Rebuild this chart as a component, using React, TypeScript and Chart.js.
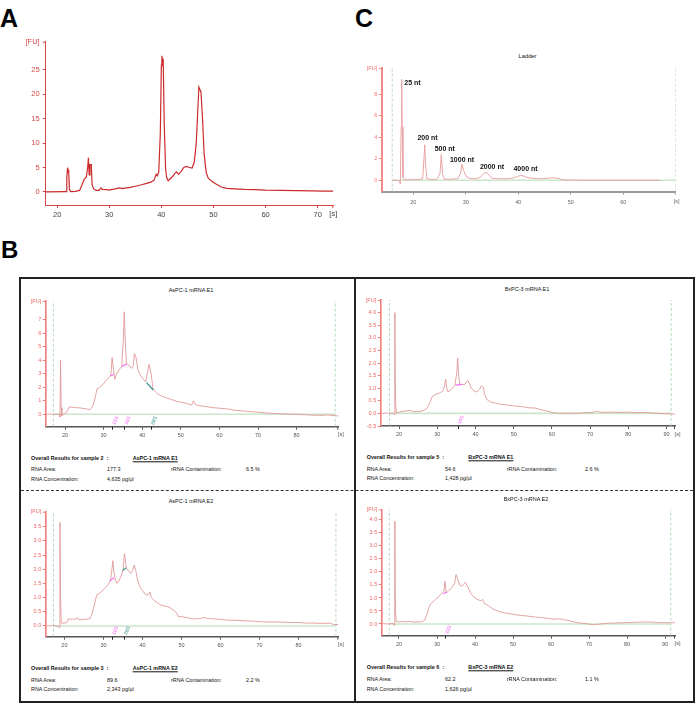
import React, { useEffect, useRef } from 'react';
import { Chart, registerables } from 'chart.js';
Chart.register(...registerables);

const FONT = "'Liberation Sans', Arial, sans-serif";

/* ---------------- Panel A ---------------- */
const aTrace: [number, number][] = [
  [17.8, 0], [21.7, 0.05], [21.85, 3], [22.0, 5.0], [22.1, 4.0], [22.2, 4.6], [22.35, 0.5], [22.6, 0.05],
  [23.5, 0.1], [24.3, 0.3], [24.8, 1.5], [25.2, 2.6], [25.6, 3.0], [25.85, 5.0], [26.0, 7.0], [26.15, 3.5],
  [26.3, 5.6], [26.55, 5.6], [26.7, 1.5], [27.0, 0.6], [27.5, 0.3], [28.0, 0.3], [28.4, 0.8], [28.7, 0.5],
  [29.5, 0.45], [30.0, 0.35], [30.5, 0.5], [31.0, 0.55], [31.5, 0.7], [32.0, 0.8], [32.5, 0.65], [33.0, 0.75],
  [34.0, 0.9], [35.0, 1.15], [36.0, 1.4], [37.0, 1.7], [38.0, 2.0], [38.6, 2.4], [39.0, 3.6], [39.2, 3.3],
  [39.5, 4.0], [39.8, 12], [40.0, 26], [40.1, 27.9], [40.25, 26.5], [40.35, 27.3], [40.55, 14], [40.8, 5],
  [41.0, 3.0], [41.3, 2.3], [41.8, 2.8], [42.2, 3.2], [42.6, 3.8], [42.9, 4.1], [43.3, 3.6], [43.8, 4.2],
  [44.3, 5.0], [44.8, 5.2], [45.4, 5.0], [45.9, 4.9], [46.3, 6.0], [46.7, 10], [47.0, 17], [47.2, 21.5],
  [47.4, 21.0], [47.6, 20.5], [47.9, 15], [48.2, 8], [48.6, 4], [49.0, 2.8], [49.6, 2.2], [50.5, 1.6],
  [51.5, 1.0], [52.5, 0.7], [54, 0.6], [56, 0.5], [58, 0.45], [60, 0.35], [63, 0.3], [66, 0.25],
  [69, 0.2], [71, 0.15], [73, 0.15],
];
const aXTicks = [20, 30, 40, 50, 60, 70];
const aYTicks = [0, 5, 10, 15, 20, 25];

/* ---------------- Panel C (ladder) ---------------- */
const ladderTrace: [number, number][] = [
  [16, 0], [17.3, 0], [17.55, -0.35], [17.7, 5.0], [17.8, 9.4], [17.9, 5.0], [18.05, 0.3], [18.3, 0.05],
  [19, 0.05], [20, 0.06], [21, 0.08], [21.8, 0.15], [22.05, 2.0], [22.2, 3.3], [22.35, 1.5], [22.6, 0.15],
  [23.5, 0.08], [24.5, 0.1], [25.1, 0.6], [25.35, 2.4], [25.6, 0.6], [25.9, 0.12], [27, 0.1], [28.5, 0.15],
  [29.0, 0.6], [29.3, 1.5], [29.6, 0.9], [30.2, 0.3], [31, 0.15], [32, 0.15], [32.8, 0.3], [33.4, 0.6],
  [33.9, 0.75], [34.4, 0.5], [35.0, 0.2], [36, 0.15], [37, 0.15], [38, 0.15], [39, 0.2], [39.8, 0.35],
  [40.5, 0.45], [40.9, 0.42], [41.5, 0.3], [42.3, 0.2], [43.5, 0.15], [44.5, 0.15], [45.5, 0.18], [46.3, 0.22],
  [47.0, 0.22], [47.6, 0.18], [48.2, 0.08], [49, 0.03], [50, 0.02], [55, 0], [60, 0], [67, 0],
];
const ladderNames = ['25 nt', '200 nt', '500 nt', '1000 nt', '2000 nt', '4000 nt'];
const ladderLabelTime = [18.3, 20.8, 24.1, 27.0, 32.7, 39.1];
const ladderLabelFU = [9.08, 3.9, 2.88, 1.89, 1.27, 1.02];
const ladderMarkers = [16, 70];
const cXTicks = [20, 30, 40, 50, 60];
const cYTicks = [0, 2, 4, 6, 8];

/* ---------------- Panel B ---------------- */
const b1Trace: [number, number][] = [
  [15, 0], [16, 0.02], [17, 0], [18, 0.01], [18.5, 0], [18.7, -0.2], [18.85, 4.0], [19.0, 0.5], [19.2, -0.1],
  [19.6, 0], [20.3, 0.1], [21, 0.5], [21.5, 0.55], [22.5, 0.5], [23.5, 0.48], [24.5, 0.45], [25.5, 0.4],
  [26.5, 0.35], [27.2, 0.6], [27.8, 1.2], [28.3, 1.9], [29, 2.0], [29.8, 2.2], [30.5, 2.45], [31.2, 2.7],
  [31.8, 2.85], [32.0, 3.3], [32.2, 4.2], [32.5, 3.5], [32.9, 2.6], [33.4, 3.0], [34, 3.3], [34.7, 3.55],
  [35.1, 5.5], [35.35, 7.6], [35.6, 5.5], [35.9, 3.75], [36.5, 3.65], [37.2, 3.4], [37.7, 3.6], [38.0, 4.5],
  [38.4, 4.2], [38.9, 3.3], [39.5, 2.9], [40.3, 2.6], [40.9, 2.4], [41.3, 3.0], [41.8, 3.7], [42.3, 3.0],
  [42.8, 1.9], [43.3, 1.7], [44, 1.5], [45, 1.35], [46, 1.25], [47, 1.15], [48, 1.05], [49, 0.95], [50, 0.9],
  [51, 0.85], [52, 0.75], [52.8, 0.7], [53.3, 1.0], [53.7, 0.75], [54.5, 0.65], [56, 0.6], [58, 0.5],
  [60, 0.45], [62, 0.4], [64, 0.3], [66, 0.25], [68, 0.2], [70, 0.15], [72, 0.1], [75, 0.05], [78, 0.02],
  [80, 0], [83, -0.05], [86, -0.08], [88, -0.05], [90, -0.1], [90.8, -0.12],
];
const b1Frag18a: [number, number][] = [[31.8, 2.85], [32.6, 2.95]];
const b1Frag18b: [number, number][] = [[34.7, 3.55], [36.0, 3.75]];
const b1Frag28: [number, number][] = [[41.1, 2.35], [42.9, 1.8]];
const b1PeakTime = [32.2, 35.35, 42.2];
const b1PeakKind = ['18S', '18S', '28S'];
const b1Markers = [17, 90];

const b2Trace: [number, number][] = [
  [15.2, 0], [17, 0.01], [18.6, 0], [18.75, -0.05], [18.9, 4.0], [19.05, 0.5], [19.3, 0.02], [20, 0.05],
  [21, 0.08], [22, 0.1], [23, 0.12], [23.5, 0.08], [24.5, 0.06], [25.5, 0.08], [26.5, 0.12], [27.3, 0.2],
  [28, 0.4], [28.6, 0.65], [29.2, 0.72], [30, 0.78], [30.8, 0.82], [31.5, 0.9], [31.9, 1.1], [32.2, 1.35],
  [32.5, 1.0], [32.8, 0.85], [33.3, 0.9], [34, 1.0], [34.6, 1.12], [35.1, 1.6], [35.35, 2.2], [35.6, 1.5],
  [35.9, 1.15], [36.5, 1.15], [37.2, 1.15], [37.6, 1.25], [38, 1.3], [38.4, 1.2], [38.9, 1.0], [39.5, 0.9],
  [40.3, 0.85], [41, 0.95], [41.6, 1.1], [42, 1.05], [42.4, 0.75], [43, 0.55], [44, 0.45], [45, 0.42],
  [46, 0.38], [47, 0.35], [48, 0.34], [49, 0.32], [50, 0.3], [51, 0.28], [52, 0.27], [53, 0.25], [54, 0.22],
  [55, 0.22], [56, 0.2], [57, 0.15], [58, 0.12], [59, 0.08], [60, 0.04], [61, 0.02], [62, 0.0], [64, 0.01],
  [66, 0.0], [68, 0.02], [70, 0.03], [71, 0.05], [72, 0.08], [72.5, 0.05], [74, 0.04], [76, 0.05], [78, 0.04],
  [80, 0.05], [82, 0.03], [84, 0.04], [86, 0.02], [88, 0.0], [90, -0.02], [92.2, -0.02],
];
const b2Frag18: [number, number][] = [[34.8, 1.12], [36.5, 1.15]];
const b2PeakTime = [35.3];
const b2PeakKind = ['18S'];
const b2Markers = [17.5, 91.2];

const b3Trace: [number, number][] = [
  [15.2, 0.02], [16, 0.0], [17, 0.02], [18, 0.0], [18.7, -0.05], [18.85, 3.65], [19.0, 1.0], [19.2, 0.1],
  [20, 0.1], [20.6, 0.12], [21, 0.25], [22, 0.23], [23, 0.25], [23.3, 0.3], [23.6, 0.22], [24.5, 0.22],
  [25.5, 0.24], [26.5, 0.25], [27, 0.4], [27.6, 0.7], [28.3, 1.1], [29, 1.15], [29.8, 1.25], [30.5, 1.35],
  [31.2, 1.45], [31.8, 1.6], [32.1, 1.9], [32.4, 2.3], [32.7, 1.9], [33.1, 1.6], [33.5, 1.5], [34, 1.6],
  [34.5, 1.75], [35, 1.95], [35.4, 2.55], [35.7, 2.2], [36, 2.0], [36.5, 1.95], [37, 1.85], [37.5, 1.95],
  [37.9, 2.15], [38.3, 1.95], [38.8, 1.6], [39.3, 1.4], [40, 1.25], [40.8, 1.1], [41.5, 1.1], [41.9, 1.2],
  [42.3, 1.0], [43, 0.9], [44, 0.8], [45, 0.72], [46, 0.7], [47, 0.65], [48, 0.55], [48.8, 0.45], [49.2, 0.32],
  [50, 0.33], [51, 0.3], [52, 0.28], [53, 0.25], [54, 0.25], [55, 0.27], [55.8, 0.3], [56.5, 0.27], [58, 0.25],
  [60, 0.23], [62, 0.2], [64, 0.2], [66, 0.18], [68, 0.17], [70, 0.15], [72, 0.14], [74, 0.14], [76, 0.13],
  [78, 0.12], [80, 0.12], [82, 0.1], [84, 0.1], [86, 0.09], [88, 0.1], [89, 0.05], [90.2, 0.05],
];
const b3Frag18: [number, number][] = [[31.6, 1.58], [32.7, 1.7]];
const b3Frag28: [number, number][] = [[34.9, 1.95], [35.8, 2.05]];
const b3PeakTime = [32.2, 35.2];
const b3PeakKind = ['18S', '28S'];
const b3Markers = [17.2, 89.6];

const b4Trace: [number, number][] = [
  [15.5, 0.02], [17, 0.0], [18.5, 0.02], [18.75, -0.05], [18.9, 3.95], [19.05, 0.5], [19.3, 0.1], [20, 0.08],
  [21, 0.1], [22, 0.08], [23, 0.1], [24, 0.07], [25, 0.08], [26, 0.08], [26.8, 0.15], [27.4, 0.4], [28, 0.7],
  [28.6, 0.82], [29.3, 0.9], [30, 1.0], [30.8, 1.1], [31.4, 1.2], [31.8, 1.25], [32.1, 1.65], [32.4, 1.2],
  [32.9, 1.25], [33.5, 1.35], [34.2, 1.45], [34.6, 1.55], [35, 1.9], [35.4, 1.75], [35.9, 1.5], [36.5, 1.45],
  [37.1, 1.55], [37.5, 1.6], [38, 1.45], [38.5, 1.3], [39, 1.15], [40, 1.0], [41, 0.92], [41.7, 0.9],
  [42, 0.95], [42.4, 0.8], [43, 0.75], [44, 0.65], [45, 0.55], [46, 0.5], [47, 0.45], [48, 0.42], [49, 0.4],
  [50, 0.37], [51, 0.35], [52, 0.33], [53, 0.32], [54, 0.3], [55, 0.28], [56, 0.27], [57, 0.25], [58, 0.24],
  [59, 0.22], [60, 0.2], [61, 0.18], [62, 0.2], [63, 0.18], [64, 0.15], [65, 0.12], [66, 0.08], [67, 0.05],
  [68, 0.03], [69, 0.02], [70, 0.0], [71, -0.03], [72, -0.02], [73, 0.0], [74, 0.02], [75, 0.03], [77, 0.04],
  [79, 0.05], [81, 0.06], [83, 0.07], [85, 0.08], [87, 0.07], [88, 0.05], [90, 0.05], [92, 0.05], [92.6, 0.04],
];
const b4Frag18: [number, number][] = [[31.7, 1.17], [32.6, 1.22]];
const b4PeakTime = [32.1];
const b4PeakKind = ['18S'];
const b4Markers = [17.45, 91.5];

const bXTicks19 = [20, 30, 40, 50, 60, 70, 80];
const bXTicks20 = [20, 30, 40, 50, 60, 70, 80, 90];
const b1YTicks = [0, 1, 2, 3, 4, 5, 6, 7];
const b2YTicks = [-0.5, 0, 0.5, 1, 1.5, 2, 2.5, 3, 3.5, 4];
const b3YTicks = [0, 0.5, 1, 1.5, 2, 2.5, 3, 3.5];
const b4YTicks = [0, 0.5, 1, 1.5, 2, 2.5, 3, 3.5, 4];

/* results table */
const sampleTitles = ['AsPC-1 mRNA E1', 'BxPC-3 mRNA E1', 'AsPC-1 mRNA E2', 'BxPC-3 mRNA E2'];
const sampleNumbers = [2, 5, 3, 6];
const rnaArea = ['177.3', '54.6', '89.6', '62.2'];
const rrnaContamination = ['6.5 %', '2.6 %', '2.2 %', '1.1 %'];
const rnaConcentration = ['4,635 pg/µl', '1,428 pg/µl', '2,343 pg/µl', '1,626 pg/µl'];

const kindColor: Record<string, string> = { '18S': '#f36cf0', '28S': '#2f9488' };

type Seg = { pts: [number, number][]; kind: string };
type Spec = {
  canvas: number[];
  plot: number[];
  xMin: number; xMax: number; yMin: number; yMax: number;
  xTicks: number[]; yTicks: number[]; yDigits: number;
  trace: [number, number][];
  lineColor: string; lineWidth: number;
  yAxisColor: string; yAxisWidth: number; yLabelColor: string;
  xAxisColor: string; xAxisWidth: number; xLabelColor: string;
  tickFont: number; tickLen: number; xGap: number; yGap: number; sOffset: number;
  markers?: number[];
  baseline?: boolean;
  segs?: Seg[];
  peakTime?: number[]; peakKind?: string[];
  peakLabels?: { t: number[]; v: number[]; text: string[] };
};

const pts = (p: [number, number][]) => p.map(([x, y]) => ({ x, y }));

function Trace({ s }: { s: Spec }) {
  const ref = useRef<HTMLCanvasElement | null>(null);
  useEffect(() => {
    if (!ref.current) return;
    const [cl, ct, cw, ch] = s.canvas;
    const [px0, py0, px1, py1] = s.plot;
    const ds: any[] = [];
    ds.push({ data: pts(s.trace), borderColor: s.lineColor, borderWidth: s.lineWidth, pointRadius: 0, tension: 0, order: 1 });
    (s.segs || []).forEach(g => ds.push({ data: pts(g.pts), borderColor: kindColor[g.kind], borderWidth: 1.2, pointRadius: 0, order: 0 }));
    if (s.markers) {
      s.markers.forEach(m => ds.push({
        data: [{ x: m, y: s.yMin }, { x: m, y: s.yMax }], borderColor: '#a6d2ab', borderWidth: 0.8,
        borderDash: [3, 2], pointRadius: 0, order: 3,
      }));
      if (s.baseline) {
        ds.push({ data: [{ x: s.markers[0], y: 0 }, { x: s.markers[1], y: 0 }], borderColor: '#cbe6cb', borderWidth: 1.6, pointRadius: 0, order: 2 });
      }
    }
    const deco = {
      id: 'deco',
      afterDraw(chart: any) {
        const ctx = chart.ctx;
        const { left, right, top, bottom } = chart.chartArea;
        const xs = chart.scales.x, ys = chart.scales.y;
        ctx.save();
        ctx.font = `${s.tickFont}px ${FONT}`;
        // [FU]
        ctx.fillStyle = s.yLabelColor;
        ctx.textAlign = 'right';
        ctx.textBaseline = 'middle';
        ctx.fillText('[FU]', left - s.tickLen - s.yGap, top);
        ctx.strokeStyle = s.yAxisColor;
        ctx.lineWidth = 1;
        ctx.beginPath(); ctx.moveTo(left - s.tickLen, top + 0.5); ctx.lineTo(left, top + 0.5); ctx.stroke();
        // [s]
        ctx.fillStyle = s.xLabelColor;
        ctx.textAlign = 'center';
        ctx.textBaseline = 'top';
        ctx.fillText('[s]', right + s.sOffset, bottom + s.tickLen + s.xGap);
        ctx.strokeStyle = s.xAxisColor;
        ctx.beginPath(); ctx.moveTo(right - 0.5, bottom); ctx.lineTo(right - 0.5, bottom + s.tickLen); ctx.stroke();
        // ladder peak labels
        if (s.peakLabels) {
          ctx.font = `bold 7px ${FONT}`;
          ctx.fillStyle = '#111';
          ctx.textAlign = 'left';
          ctx.textBaseline = 'middle';
          s.peakLabels.text.forEach((txt, i) => {
            ctx.fillText(txt, xs.getPixelForValue(s.peakLabels!.t[i]), ys.getPixelForValue(s.peakLabels!.v[i]));
          });
        }
        // fragment markers
        if (s.peakTime) {
          s.peakTime.forEach((t, i) => {
            const x = xs.getPixelForValue(t);
            ctx.strokeStyle = '#222';
            ctx.lineWidth = 1;
            ctx.beginPath(); ctx.moveTo(Math.round(x) + 0.5, bottom); ctx.lineTo(Math.round(x) + 0.5, bottom + 3); ctx.stroke();
            const kind = s.peakKind![i];
            ctx.save();
            ctx.translate(x + 1.5, bottom - 2);
            ctx.rotate(-65 * Math.PI / 180);
            ctx.font = `5px ${FONT}`;
            ctx.fillStyle = kindColor[kind];
            ctx.textAlign = 'left';
            ctx.textBaseline = 'middle';
            ctx.fillText(kind, 0, 0);
            ctx.restore();
          });
        }
        ctx.restore();
      },
    };
    const chart = new Chart(ref.current, {
      type: 'line',
      data: { datasets: ds },
      options: {
        animation: false,
        responsive: false,
        maintainAspectRatio: false,
        events: [],
        layout: { padding: { top: py0 - ct, right: cl + cw - px1, left: 0, bottom: 0 } },
        plugins: { legend: { display: false }, tooltip: { enabled: false }, title: { display: false } },
        scales: {
          x: {
            type: 'linear', min: s.xMin, max: s.xMax,
            afterFit: (sc: any) => { sc.height = ct + ch - py1; },
            afterBuildTicks: (sc: any) => { sc.ticks = s.xTicks.map(value => ({ value })); },
            grid: { drawOnChartArea: false, drawTicks: true, tickLength: s.tickLen, color: s.xAxisColor, lineWidth: 1 },
            border: { display: true, color: s.xAxisColor, width: s.xAxisWidth },
            ticks: {
              color: s.xLabelColor, font: { family: FONT, size: s.tickFont }, padding: s.xGap,
              maxRotation: 0, autoSkip: false, callback: (v: any) => String(v),
            },
          },
          y: {
            type: 'linear', min: s.yMin, max: s.yMax,
            afterFit: (sc: any) => { sc.width = px0 - cl; },
            afterBuildTicks: (sc: any) => { sc.ticks = s.yTicks.map(value => ({ value })); },
            grid: { drawOnChartArea: false, drawTicks: true, tickLength: s.tickLen, color: s.yAxisColor, lineWidth: 1 },
            border: { display: true, color: s.yAxisColor, width: s.yAxisWidth },
            ticks: {
              color: s.yLabelColor, font: { family: FONT, size: s.tickFont }, padding: s.yGap,
              autoSkip: false, callback: (v: any) => Number(v).toFixed(s.yDigits),
            },
          },
        },
      } as any,
      plugins: [deco as any],
    });
    return () => chart.destroy();
  }, [s]);
  const [cl, ct, cw, ch] = s.canvas;
  return (
    <canvas ref={ref} width={cw} height={ch}
      style={{ position: 'absolute', left: cl, top: ct, width: cw, height: ch, display: 'block' }} />
  );
}

const bStyle = {
  lineColor: '#e09898', lineWidth: 0.9,
  yAxisColor: '#f27c7c', yAxisWidth: 1.6, yLabelColor: '#ef6363',
  xAxisColor: '#555', xAxisWidth: 1.4, xLabelColor: '#555',
  tickFont: 5.5, tickLen: 3, xGap: 2.5, yGap: 1.5, sOffset: 2.5, baseline: true,
};

const specA: Spec = {
  canvas: [0, 28, 346, 200], plot: [45.7, 41.7, 333.3, 205],
  xMin: 17.8, xMax: 73, yMin: -2.7, yMax: 30.8, xTicks: aXTicks, yTicks: aYTicks, yDigits: 0,
  trace: aTrace, lineColor: '#cc2a2a', lineWidth: 1.2,
  yAxisColor: '#d24848', yAxisWidth: 1, yLabelColor: '#d24848',
  xAxisColor: '#d24848', xAxisWidth: 1, xLabelColor: '#444',
  tickFont: 7.5, tickLen: 3, xGap: 2.5, yGap: 3, sOffset: 0,
};

const specC: Spec = {
  canvas: [350, 55, 342, 160], plot: [381.7, 68, 675.7, 191.7],
  xMin: 14, xMax: 70, yMin: -1.06, yMax: 10.45, xTicks: cXTicks, yTicks: cYTicks, yDigits: 0,
  trace: ladderTrace, lineColor: '#e9a4a4', lineWidth: 1,
  yAxisColor: '#f28a8a', yAxisWidth: 2, yLabelColor: '#f07070',
  xAxisColor: '#9a9a9a', xAxisWidth: 2, xLabelColor: '#666',
  tickFont: 5.5, tickLen: 3, xGap: 4, yGap: 1.5, sOffset: 1,
  markers: ladderMarkers, baseline: true,
  peakLabels: { t: ladderLabelTime, v: ladderLabelFU, text: ladderNames },
};

const specB1: Spec = {
  ...bStyle, canvas: [22, 295, 330, 150], plot: [45.7, 301, 338.3, 426.7],
  xMin: 15, xMax: 90.8, yMin: -0.92, yMax: 8.4, xTicks: bXTicks19, yTicks: b1YTicks, yDigits: 0,
  trace: b1Trace, markers: b1Markers,
  segs: [{ pts: b1Frag18a, kind: '18S' }, { pts: b1Frag18b, kind: '18S' }, { pts: b1Frag28, kind: '28S' }],
  peakTime: b1PeakTime, peakKind: b1PeakKind,
};
const specB2: Spec = {
  ...bStyle, canvas: [357, 294, 335, 150], plot: [380.7, 300, 675, 426],
  xMin: 15.2, xMax: 92.2, yMin: -0.5, yMax: 4.5, xTicks: bXTicks20, yTicks: b2YTicks, yDigits: 1,
  trace: b2Trace, markers: b2Markers,
  segs: [{ pts: b2Frag18, kind: '18S' }],
  peakTime: b2PeakTime, peakKind: b2PeakKind,
};
const specB3: Spec = {
  ...bStyle, canvas: [22, 505, 330, 150], plot: [45.7, 511.7, 338.3, 636.7],
  xMin: 15.2, xMax: 90.2, yMin: -0.38, yMax: 4.03, xTicks: bXTicks19, yTicks: b3YTicks, yDigits: 1,
  trace: b3Trace, markers: b3Markers,
  segs: [{ pts: b3Frag18, kind: '18S' }, { pts: b3Frag28, kind: '28S' }],
  peakTime: b3PeakTime, peakKind: b3PeakKind,
};
const specB4: Spec = {
  ...bStyle, canvas: [357, 503, 335, 150], plot: [381.7, 509.3, 675, 635.7],
  xMin: 15.45, xMax: 92.6, yMin: -0.45, yMax: 4.41, xTicks: bXTicks20, yTicks: b4YTicks, yDigits: 1,
  trace: b4Trace, markers: b4Markers,
  segs: [{ pts: b4Frag18, kind: '18S' }],
  peakTime: b4PeakTime, peakKind: b4PeakKind,
};

const bLayout = [
  { tx: 191, ty: 291, l: 31, n: 132.7, v: 107, c3: 171, c4: 246, rows: [459, 470, 480] },
  { tx: 527, ty: 290, l: 366.7, n: 468.3, v: 445, c3: 506.7, c4: 585, rows: [457.7, 469.5, 479] },
  { tx: 191, ty: 501.7, l: 31, n: 132.7, v: 107, c3: 171, c4: 246, rows: [669, 680.5, 690.3] },
  { tx: 526, ty: 500, l: 366.7, n: 468.3, v: 445, c3: 506.7, c4: 585, rows: [668.3, 680, 690] },
];

function Txt(p: { x: number; y: number; children: any; size?: number; bold?: boolean; underline?: boolean; center?: boolean; color?: string }) {
  return (
    <div style={{
      position: 'absolute', left: p.x, top: p.y,
      transform: `translate(${p.center ? '-50%' : '0'}, -50%)`,
      fontFamily: FONT, fontSize: p.size ?? 5.4, fontWeight: p.bold ? 700 : 400,
      textDecoration: p.underline ? 'underline' : 'none', whiteSpace: 'nowrap', lineHeight: 1,
      color: p.color ?? '#111',
    }}>{p.children}</div>
  );
}

export default function App() {
  return (
    <div style={{ position: 'absolute', left: 0, top: 0, width: 697, height: 714, background: '#fff', overflow: 'hidden' }}>
      {/* panel letters */}
      <div style={{ position: 'absolute', left: 0, top: 6, fontFamily: FONT, fontWeight: 700, fontSize: 25, lineHeight: 1 }}>A</div>
      <div style={{ position: 'absolute', left: 355, top: 6, fontFamily: FONT, fontWeight: 700, fontSize: 25, lineHeight: 1 }}>C</div>
      <div style={{ position: 'absolute', left: 1, top: 238, fontFamily: FONT, fontWeight: 700, fontSize: 24, lineHeight: 1 }}>B</div>

      <Trace s={specA} />
      <Txt x={527.5} y={57} center size={5.8}>Ladder</Txt>
      <Trace s={specC} />

      {/* B frame */}
      <div style={{ position: 'absolute', left: 19, top: 277, width: 676, height: 426, border: '2px solid #222', boxSizing: 'border-box' }} />
      <div style={{ position: 'absolute', left: 353.5, top: 278, width: 2, height: 424, background: '#222' }} />
      <div style={{ position: 'absolute', left: 21, top: 489.5, width: 672, height: 0, borderTop: '1px dashed #333' }} />

      <Trace s={specB1} />
      <Trace s={specB2} />
      <Trace s={specB3} />
      <Trace s={specB4} />

      {bLayout.map((L, i) => (
        <React.Fragment key={i}>
          <Txt x={L.tx} y={L.ty} center size={5.5}>{sampleTitles[i]}</Txt>
          <Txt x={L.l} y={L.rows[0]} bold>{`Overall Results for sample ${sampleNumbers[i]}\u00a0\u00a0:`}</Txt>
          <Txt x={L.n} y={L.rows[0]} bold underline>{sampleTitles[i]}</Txt>
          <Txt x={L.l} y={L.rows[1]}>RNA Area:</Txt>
          <Txt x={L.v} y={L.rows[1]}>{rnaArea[i]}</Txt>
          <Txt x={L.c3} y={L.rows[1]}>rRNA Contamination:</Txt>
          <Txt x={L.c4} y={L.rows[1]}>{rrnaContamination[i]}</Txt>
          <Txt x={L.l} y={L.rows[2]}>RNA Concentration:</Txt>
          <Txt x={L.v} y={L.rows[2]}>{rnaConcentration[i]}</Txt>
        </React.Fragment>
      ))}
    </div>
  );
}
